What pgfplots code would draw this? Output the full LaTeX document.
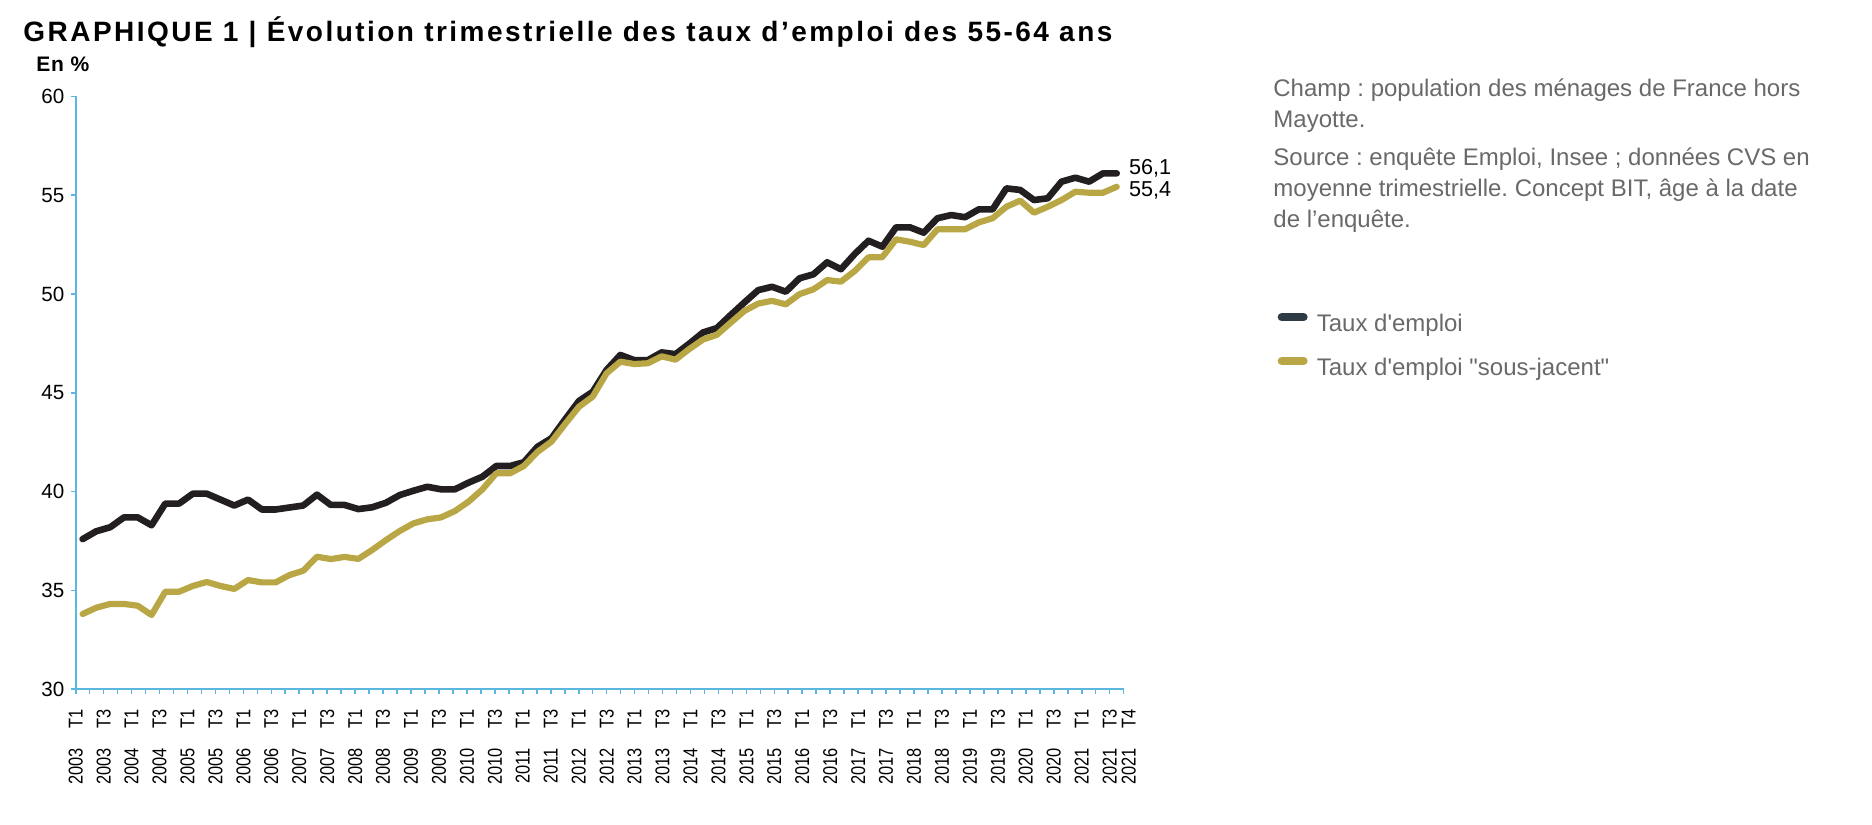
\documentclass[border=0pt]{standalone}
\usepackage{fontspec}
\setmainfont{Liberation Sans}[Ligatures=TeXOff]
\newfontfamily\narrowfont{Liberation Sans}[FakeStretch=0.82, Ligatures=TeXOff]
\newfontfamily\titlefont{Liberation Sans}[LetterSpace=8.8, Ligatures=TeXOff]
\newfontfamily\enfont{Liberation Sans}[LetterSpace=4, Ligatures=TeXOff]
\usepackage{pgfplots}
\pgfplotsset{compat=1.18}
\usepackage{pgfplotstable}
\definecolor{axisblue}{RGB}{91,182,226}
\definecolor{serblack}{RGB}{35,31,32}
\definecolor{sergold}{RGB}{185,167,70}
\definecolor{legslate}{RGB}{46,59,68}
\definecolor{notegray}{RGB}{105,105,105}
\frenchspacing

\pgfplotstableread{
i emploi sousjacent
0 37.60 33.81
1 38.00 34.13
2 38.20 34.32
3 38.70 34.32
4 38.70 34.23
5 38.30 33.76
6 39.40 34.94
7 39.40 34.94
8 39.90 35.23
9 39.90 35.43
10 39.60 35.23
11 39.30 35.08
12 39.60 35.53
13 39.10 35.41
14 39.10 35.41
15 39.20 35.78
16 39.30 36.00
17 39.85 36.71
18 39.33 36.59
19 39.33 36.70
20 39.12 36.60
21 39.21 37.05
22 39.44 37.55
23 39.83 38.01
24 40.05 38.40
25 40.25 38.60
26 40.12 38.70
27 40.12 39.02
28 40.46 39.50
29 40.76 40.12
30 41.30 40.93
31 41.30 40.93
32 41.49 41.30
33 42.28 42.02
34 42.70 42.53
35 43.66 43.43
36 44.59 44.30
37 45.06 44.81
38 46.16 45.99
39 46.92 46.58
40 46.66 46.46
41 46.66 46.50
42 47.05 46.85
43 46.96 46.68
44 47.49 47.22
45 48.06 47.70
46 48.28 47.94
47 48.94 48.55
48 49.58 49.15
49 50.20 49.52
50 50.37 49.66
51 50.12 49.48
52 50.80 50.00
53 51.00 50.24
54 51.61 50.71
55 51.26 50.63
56 52.03 51.17
57 52.70 51.86
58 52.40 51.87
59 53.38 52.77
60 53.38 52.65
61 53.11 52.48
62 53.84 53.28
63 54.00 53.28
64 53.89 53.28
65 54.29 53.63
66 54.29 53.84
67 55.35 54.42
68 55.27 54.73
69 54.76 54.12
70 54.85 54.42
71 55.69 54.76
72 55.89 55.18
73 55.69 55.13
74 56.11 55.13
75 56.11 55.43
}\datatable

\newcommand{\yq}[2]{#1\hspace{10pt}#2}

\begin{document}
\begin{tikzpicture}
\path[use as bounding box] (0,0) rectangle (936pt,412pt);
% title
\node[anchor=base west, inner sep=0pt] at (11.5pt,391pt)
  {\fontsize{14}{16}\titlefont\bfseries GRAPHIQUE 1 | Évolution trimestrielle des taux d’emploi des 55-64 ans};
\node[anchor=base west, inner sep=0pt] at (18pt,376pt)
  {\fontsize{10.5}{12}\enfont\bfseries En \%};
% notes
\begin{scope}[every node/.style={anchor=base west, inner sep=0pt, text=notegray, font=\fontsize{12}{14}\selectfont}]
\node at (636.5pt,363.6pt) {Champ : population des ménages de France hors};
\node at (636.5pt,348.1pt) {Mayotte.};
\node at (636.5pt,329pt) {Source : enquête Emploi, Insee ; données CVS en};
\node at (636.5pt,313.5pt) {moyenne trimestrielle. Concept BIT, âge à la date};
\node at (636.5pt,298pt) {de l’enquête.};
\end{scope}
\begin{axis}[
  at={(37.85pt,67.35pt)}, anchor=south west,
  scale only axis, width=523.95pt, height=296.4pt,
  xmin=-0.5, xmax=75.5, ymin=30, ymax=60,
  axis lines=left,
  axis line style={-, draw=axisblue, line width=1pt},
  ytick={30,35,...,60},
  xtick={-0.5,0.513,1.527,2.540,3.553,4.567,5.580,6.593,7.607,8.620,9.633,10.647,11.660,12.673,13.687,14.700,15.713,16.727,17.740,18.753,19.767,20.780,21.793,22.807,23.820,24.833,25.847,26.860,27.873,28.887,29.900,30.913,31.927,32.940,33.953,34.967,35.980,36.993,38.007,39.020,40.033,41.047,42.060,43.073,44.087,45.100,46.113,47.127,48.140,49.153,50.167,51.180,52.193,53.207,54.220,55.233,56.247,57.260,58.273,59.287,60.300,61.313,62.327,63.340,64.353,65.367,66.380,67.393,68.407,69.420,70.433,71.447,72.460,73.473,74.487,75.5},
  major x tick style={draw=axisblue, line width=0.8pt},
  major y tick style={draw=axisblue, line width=0.8pt},
  tick align=outside,
  major tick length=2.2pt,
  xticklabels={\yq{2003}{T1},,\yq{2003}{T3},,\yq{2004}{T1},,\yq{2004}{T3},,\yq{2005}{T1},,\yq{2005}{T3},,\yq{2006}{T1},,\yq{2006}{T3},,\yq{2007}{T1},,\yq{2007}{T3},,\yq{2008}{T1},,\yq{2008}{T3},,\yq{2009}{T1},,\yq{2009}{T3},,\yq{2010}{T1},,\yq{2010}{T3},,\yq{2011}{T1},,\yq{2011}{T3},,\yq{2012}{T1},,\yq{2012}{T3},,\yq{2013}{T1},,\yq{2013}{T3},,\yq{2014}{T1},,\yq{2014}{T3},,\yq{2015}{T1},,\yq{2015}{T3},,\yq{2016}{T1},,\yq{2016}{T3},,\yq{2017}{T1},,\yq{2017}{T3},,\yq{2018}{T1},,\yq{2018}{T3},,\yq{2019}{T1},,\yq{2019}{T3},,\yq{2020}{T1},,\yq{2020}{T3},,\yq{2021}{T1},,\yq{2021}{T3},},
  extra x ticks={75.5},
  extra x tick labels={\yq{2021}{T4}},
  extra x tick style={major x tick style={draw=none}, xticklabel style={yshift=-2.5pt}},
  xticklabel style={rotate=90, anchor=east, inner sep=0pt, font=\fontsize{10}{12}\narrowfont},
  xticklabel shift=7.5pt,
  yticklabel style={font=\fontsize{10.3}{12}\selectfont},
  /pgf/number format/assume math mode=true,
  clip=false,
  legend style={at={(1.1466,0.635)}, anchor=north west, draw=none, fill=none,
    inner sep=0pt, row sep=11.2pt, column sep=4.6pt,
    nodes={inner sep=0pt, text=notegray, font=\fontsize{12}{14}\selectfont}},
  legend cell align=left,
  legend image code/.code={\draw[line width=4pt, line cap=round, #1] (0pt,3.5pt) -- (11pt,3.5pt);},
]
\addlegendimage{legslate}
\addlegendentry{Taux d'emploi}
\addlegendimage{sergold}
\addlegendentry{Taux d'emploi "sous-jacent"}
\addplot[serblack, line width=3.3pt, line join=round, line cap=round, forget plot] table[x=i, y=emploi] {\datatable};
\addplot[sergold, line width=3.1pt, line join=round, line cap=round, forget plot] table[x=i, y=sousjacent] {\datatable};
\node[anchor=west, inner sep=0pt, font=\fontsize{10.8}{12}\selectfont, xshift=6pt, yshift=2.3pt] at (axis cs:75,56.11) {56,1};
\node[anchor=west, inner sep=0pt, font=\fontsize{10.8}{12}\selectfont, xshift=6pt, yshift=-2pt] at (axis cs:75,55.43) {55,4};
\end{axis}
\end{tikzpicture}
\end{document}
